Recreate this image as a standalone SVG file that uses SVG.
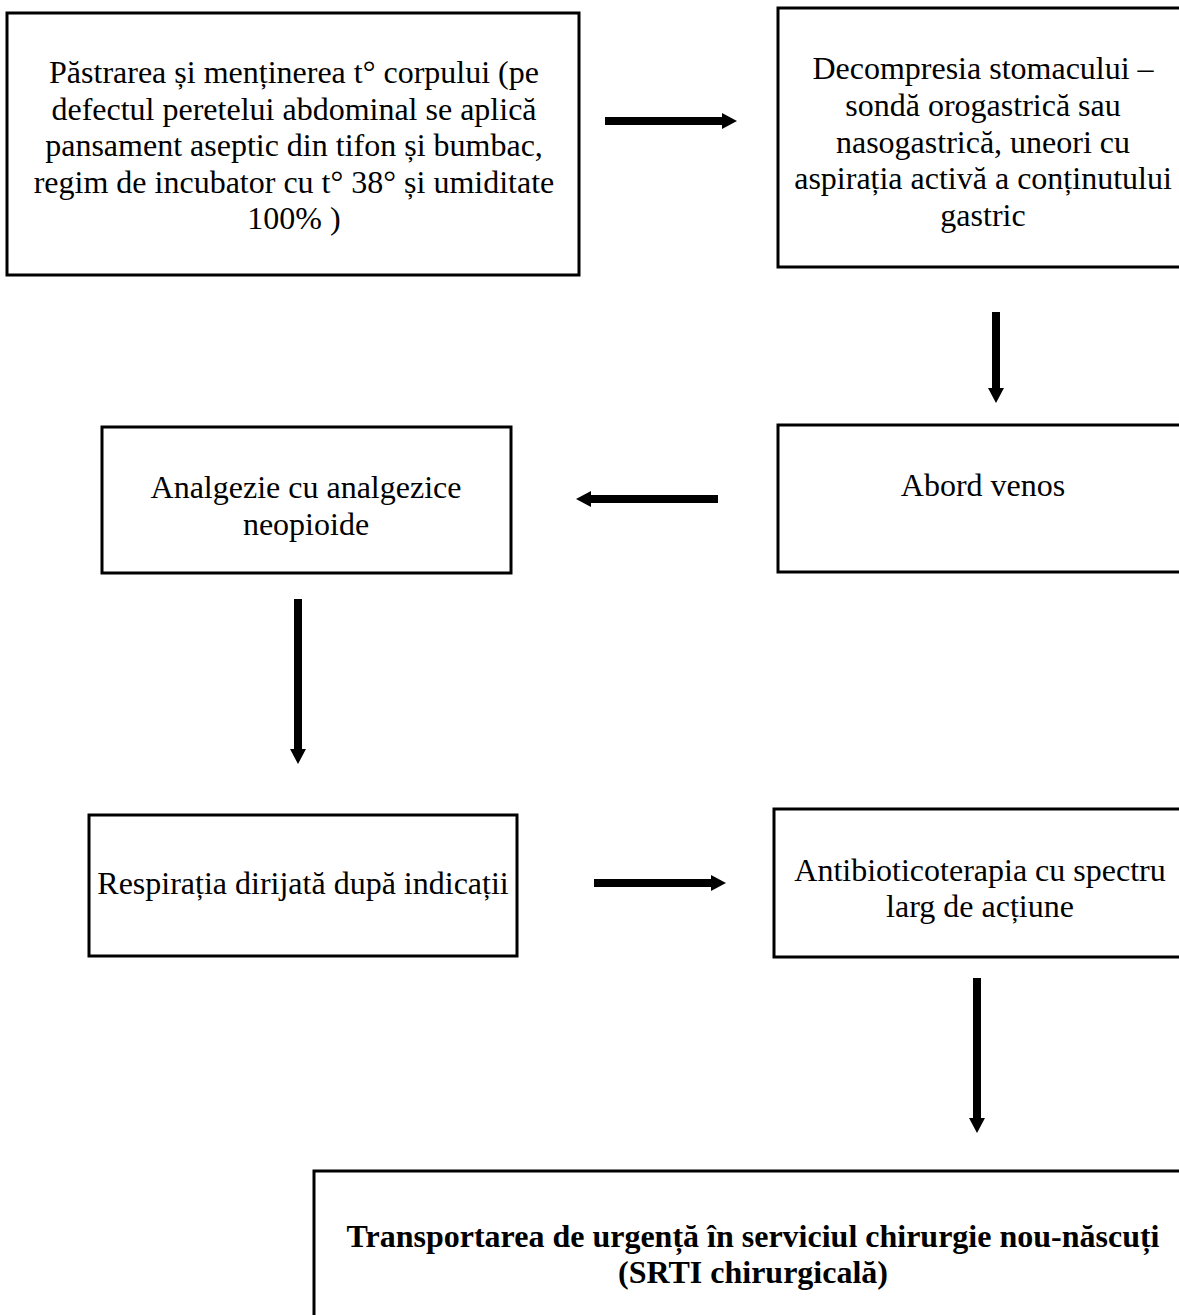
<svg xmlns="http://www.w3.org/2000/svg" width="1179" height="1315" viewBox="0 0 1179 1315">
<style>
.box{fill:#ffffff;stroke:#000000;stroke-width:3}
.t{font-family:"Liberation Serif","Times New Roman",serif;font-size:32px;fill:#000000;text-anchor:middle}
.b{font-weight:bold}
.c{stroke:#000000;stroke-width:8;fill:none;marker-end:url(#ah)}
</style>
<defs>
<marker id="ah" viewBox="0 0 15 16" refX="0" refY="8" markerWidth="15" markerHeight="16" markerUnits="userSpaceOnUse" orient="auto">
<path d="M0,0 L15,8 L0,16 Z" fill="#000000"/>
</marker>
</defs>
<rect width="1179" height="1315" fill="#ffffff"/>
<g id="connectors">
<line class="c" x1="605" y1="121" x2="722" y2="121"/>
<line class="c" x1="996" y1="312" x2="996" y2="388"/>
<line class="c" x1="718" y1="499" x2="591" y2="499"/>
<line class="c" x1="298" y1="599" x2="298" y2="749"/>
<line class="c" x1="594" y1="883" x2="711" y2="883"/>
<line class="c" x1="977" y1="978" x2="977" y2="1118"/>
</g>
<g id="node1">
<rect class="box" x="7" y="13" width="572" height="262"/>
<text class="t" x="294" y="83">Păstrarea și menținerea t° corpului (pe</text>
<text class="t" x="294" y="119.5">defectul peretelui abdominal se aplică</text>
<text class="t" x="294" y="156">pansament aseptic din tifon și bumbac,</text>
<text class="t" x="294" y="192.5">regim de incubator cu t° 38° și umiditate</text>
<text class="t" x="294" y="229">100% )</text>
</g>
<g id="node2">
<rect class="box" x="778" y="8" width="410" height="259"/>
<text class="t" x="983" y="79">Decompresia stomacului –</text>
<text class="t" x="983" y="116">sondă orogastrică sau</text>
<text class="t" x="983" y="152.5">nasogastrică, uneori cu</text>
<text class="t" x="983" y="189">aspirația activă a conținutului</text>
<text class="t" x="983" y="226">gastric</text>
</g>
<g id="node3">
<rect class="box" x="778" y="425" width="410" height="147"/>
<text class="t" x="983" y="496">Abord venos</text>
</g>
<g id="node4">
<rect class="box" x="102" y="427" width="409" height="146"/>
<text class="t" x="306" y="498">Analgezie cu analgezice</text>
<text class="t" x="306" y="534.5">neopioide</text>
</g>
<g id="node5">
<rect class="box" x="89" y="815" width="428" height="141"/>
<text class="t" x="303" y="894">Respirația dirijată după indicații</text>
</g>
<g id="node6">
<rect class="box" x="774" y="809" width="412" height="148"/>
<text class="t" x="980" y="881">Antibioticoterapia cu spectru</text>
<text class="t" x="980" y="917">larg de acțiune</text>
</g>
<g id="node7">
<rect class="box" x="314" y="1171" width="878" height="160"/>
<text class="t b" x="753" y="1247">Transportarea de urgență în serviciul chirurgie nou-născuți</text>
<text class="t b" x="753" y="1283">(SRTI chirurgicală)</text>
</g>
</svg>
